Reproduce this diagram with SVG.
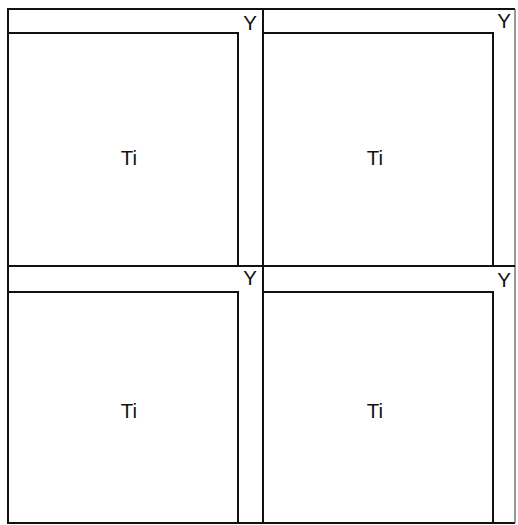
<svg xmlns="http://www.w3.org/2000/svg" width="518" height="525" viewBox="0 0 518 525">
<style>
.ln{fill:none;stroke:#111;stroke-width:2}
.edge{fill:none;stroke:#555;stroke-width:1.2}
.t{font-family:"Liberation Sans",Arial,sans-serif;font-size:20.5px;fill:#111}
</style>
<rect width="518" height="525" fill="#fff"/>
<g id="frame">
<polyline class="ln" points="515,9 8,9 8,523 515,523"/>
<line class="edge" x1="515" y1="9" x2="515" y2="523"/>
<line class="ln" x1="263" y1="9" x2="263" y2="523"/>
<line class="ln" x1="8" y1="266" x2="515" y2="266"/>
</g>
<g id="q1">
<polyline class="ln" points="8,33 238,33 238,266"/>
<text class="t" x="129" y="165" text-anchor="middle">Ti</text>
<text class="t" x="250" y="30" text-anchor="middle">Y</text>
</g>
<g id="q2">
<polyline class="ln" points="263,33 493,33 493,266"/>
<text class="t" x="375" y="165" text-anchor="middle">Ti</text>
<text class="t" x="504" y="28" text-anchor="middle">Y</text>
</g>
<g id="q3">
<polyline class="ln" points="8,292 238,292 238,523"/>
<text class="t" x="129" y="418" text-anchor="middle">Ti</text>
<text class="t" x="250" y="285" text-anchor="middle">Y</text>
</g>
<g id="q4">
<polyline class="ln" points="263,292 493,292 493,523"/>
<text class="t" x="375" y="418" text-anchor="middle">Ti</text>
<text class="t" x="504" y="287" text-anchor="middle">Y</text>
</g>
</svg>
